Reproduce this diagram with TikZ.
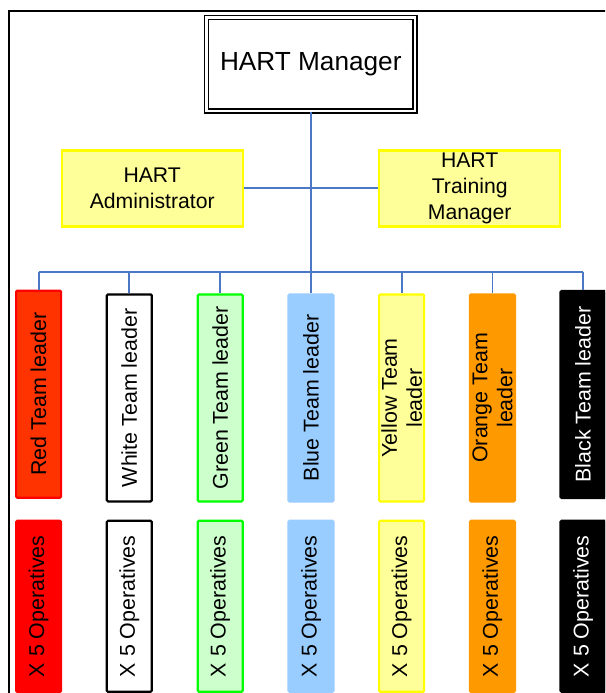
\documentclass[tikz,border=0pt]{standalone}
\usepackage{fontspec}
\setmainfont{Liberation Sans}
\definecolor{conn}{HTML}{4A78C4}
\definecolor{redlead}{HTML}{FF3300}
\definecolor{lgreen}{HTML}{CCFFCC}
\definecolor{vgreen}{HTML}{00FF00}
\definecolor{lblue}{HTML}{99CCFF}
\definecolor{lyellow}{HTML}{FFFF99}
\definecolor{vyellow}{HTML}{FFFF00}
\definecolor{orng}{HTML}{FF9900}
\begin{document}
\begin{tikzpicture}[x=1pt,y=-1pt,
  conline/.style={draw=conn,line width=1.8pt},
  mgrbox/.style={draw=black,double=white,double distance=2.5pt,line width=1.4pt,
    minimum width=208.5pt,minimum height=93.5pt,inner sep=0pt,
    font=\fontsize{26.2}{30}\selectfont},
  asstbox/.style={draw=vyellow,fill=lyellow,line width=2.4pt,
    minimum width=181pt,minimum height=76pt,inner sep=0pt,align=center,
    font=\fontsize{21.2}{25.7}\selectfont},
  teambox/.style={line width=2.2pt,inner sep=0pt,rounded corners=1.2pt,
    minimum width=45pt},
  leadbox/.style={teambox,minimum height=207pt},
  opbox/.style={teambox,minimum height=171pt},
  vtext/.style={rotate=90,align=center,inner sep=0pt,
    font=\fontsize{21.4}{25}\selectfont}]
\useasboundingbox (0,0) rectangle (605,693);
\clip (0,0) rectangle (605,693);
\fill[white] (0,0) rectangle (605,693);
% outer frame (cropped at right and bottom)
\draw[line width=2pt] (9,700) -- (9,11) -- (620,11);

% top level
\node[mgrbox] (mgr) at (310.8,64.3) {HART Manager};
\node[asstbox] (adm) at (152.2,188.3) {HART\\Administrator};
\node[asstbox] (trn) at (469.7,188.3) {HART\\Training\\Manager};

% team leaders
\node[leadbox,draw=red,fill=redlead] (l1) at (38.6,394.2) {};
\node[vtext] (t1) at (l1.center) {Red Team leader};
\node[leadbox,draw=black,fill=white] (l2) at (129.3,397.9) {};
\node[vtext] (t2) at (l2.center) {White Team leader};
\node[leadbox,draw=vgreen,fill=lgreen] (l3) at (220.2,397.9) {};
\node[vtext] (t3) at (l3.center) {Green Team leader};
\node[leadbox,draw=lblue,fill=lblue] (l4) at (311,397.9) {};
\node[vtext] (t4) at (l4.center) {Blue Team leader};
\node[leadbox,draw=vyellow,fill=lyellow] (l5) at (401.6,397.9) {};
\node[vtext] (t5) at (l5.center) {Yellow Team\\leader};
\node[leadbox,draw=orng,fill=orng] (l6) at (492.4,397.9) {};
\node[vtext] (t6) at (l6.center) {Orange Team\\leader};
\node[leadbox,draw=black,fill=black] (l7) at (583,394.5) {};
\node[vtext,text=white] (t7) at (l7.center) {Black Team leader};

% operatives
\node[opbox,draw=red,fill=red] (o1) at (38.6,606.3) {};
\node[opbox,draw=black,fill=white] (o2) at (129.3,606.3) {};
\node[opbox,draw=vgreen,fill=lgreen] (o3) at (220.2,606.3) {};
\node[opbox,draw=lblue,fill=lblue] (o4) at (311,606.3) {};
\node[opbox,draw=vyellow,fill=lyellow] (o5) at (401.6,606.3) {};
\node[opbox,draw=orng,fill=orng] (o6) at (492.4,606.3) {};
\node[opbox,draw=black,fill=black] (o7) at (583,606.3) {};
\foreach \i in {1,...,6}{
  \node[vtext] (p\i) at (o\i.center) {X 5 Operatives};
}
\node[vtext,text=white] (p7) at (o7.center) {X 5 Operatives};

% connectors
\coordinate (busL) at (38.6,271.7);
\coordinate (busR) at (583,271.7);
\coordinate (busM) at (310.8,271.7);
\draw[conline] (mgr.south) -- (busM);
\draw[conline] (adm.east) -- (trn.west);
\draw[conline] (busL) -- (busR);
\foreach \i in {1,...,7}{
  \draw[conline] (l\i.north |- busL) -- (l\i.north);
}
\end{tikzpicture}
\end{document}
